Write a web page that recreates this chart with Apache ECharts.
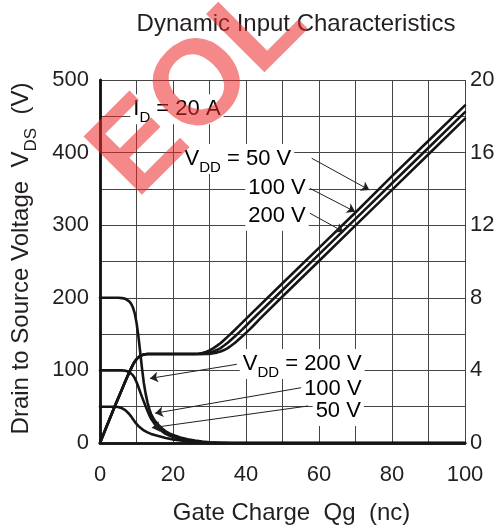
<!DOCTYPE html>
<html><head><meta charset="utf-8">
<script src="https://cdn.jsdelivr.net/npm/echarts@6/dist/echarts.min.js"></script>
<style>html,body{margin:0;padding:0;background:#fff}#c{width:499px;height:529px}</style>
</head><body><div id="c"></div>
<script>
// ---- tick labels ----
const xTickLabels = [0, 20, 40, 60, 80, 100];
const leftTickLabels = [0, 100, 200, 300, 400, 500];
const rightTickLabels = [0, 4, 8, 12, 16, 20];

// ---- Gate-source voltage VGS (right axis, V) vs Qg (nC) ----
const vgs50 = [[0,0],[2,1.0],[4,2.0],[6,2.95],[7,3.43],[8,3.88],[8.5,4.1],[9,4.3],[9.5,4.48],[10,4.62],[10.5,4.73],[11,4.8],[11.5,4.85],[12,4.88],[13,4.9],[20,4.9],[26,4.9],[27,4.92],[28,4.96],[29,5.02],[30,5.1],[31,5.21],[32,5.35],[33,5.5],[34,5.68],[35,5.86],[36,6.05],[37,6.24],[38,6.44],[40,6.84],[50,8.8],[60,10.75],[70,12.7],[80,14.7],[90,16.65],[100,18.6]];
const vgs100 = [[0,0],[2,1.0],[4,2.0],[6,2.95],[7,3.43],[8,3.88],[8.5,4.1],[9,4.3],[9.5,4.48],[10,4.62],[10.5,4.73],[11,4.8],[11.5,4.85],[12,4.88],[13,4.9],[20,4.9],[28,4.91],[29,4.94],[30,4.98],[31,5.04],[32,5.12],[33,5.23],[34,5.37],[35,5.52],[36,5.7],[37,5.88],[38,6.07],[39,6.26],[40,6.46],[42,6.86],[50,8.43],[60,10.39],[70,12.35],[80,14.31],[90,16.27],[100,18.23]];
const vgs200 = [[0,0],[2,1.0],[4,2.0],[6,2.95],[7,3.43],[8,3.88],[8.5,4.1],[9,4.3],[9.5,4.48],[10,4.62],[10.5,4.73],[11,4.8],[11.5,4.85],[12,4.88],[13,4.9],[20,4.9],[30,4.91],[31,4.94],[32,4.98],[33,5.04],[34,5.12],[35,5.23],[36,5.37],[37,5.52],[38,5.7],[39,5.88],[40,6.07],[41,6.26],[42,6.46],[44,6.88],[50,8.07],[60,10.03],[70,11.99],[80,13.95],[90,15.91],[100,17.87]];

// ---- Drain-source voltage VDS (left axis, V) vs Qg (nC) ----
const vds200 = [[0,200],[5,200],[6,199.6],[7,198.5],[7.5,197],[8,195],[8.5,192],[9,187],[9.5,179],[10,166],[10.5,148],[11,126],[11.5,103],[12,83],[12.5,68],[13,56],[13.5,47],[14,40],[14.5,35],[15,31],[16,25],[17,20],[18,16],[19,13.2],[20,11],[22,7.5],[24,5],[26,3.3],[28,2],[30,1.1],[32,0.5],[34,0.15],[36,0],[100,0]];
const vds100 = [[0,100],[6,100],[7,99.5],[7.5,98.8],[8,97.8],[8.5,96],[9,93.5],[9.5,89.5],[10,84],[10.5,77.5],[11,70.5],[11.5,63.5],[12,57],[12.5,50.5],[13,44.5],[13.5,38.5],[14,33.5],[15,26],[16,20.5],[17,16],[18,12.5],[19,10.2],[20,8.5],[22,5.6],[24,3.6],[26,2.3],[28,1.3],[30,0.6],[32,0.2],[34,0],[100,0]];
const vds50 = [[0,50],[4,50],[5,49.6],[5.5,49],[6,48],[6.5,46.7],[7,45],[7.5,42.7],[8,40],[8.5,36.7],[9,33.2],[9.5,29.5],[10,26.3],[10.5,23.5],[11,21],[12,17.3],[13,14.6],[14,12.5],[15,10.9],[16,9.5],[18,7],[20,5],[22,3.5],[24,2.3],[26,1.5],[28,0.8],[30,0.3],[32,0.05],[33,0],[100,0]];

// ---- annotation arrows (data coords: [Qg, V]) ----
const upperArrows = [[[58,15.69],[73.8,13.94]], [[57.5,14.03],[69.9,12.74]], [[57.5,12.66],[66.7,11.64]]];
const lowerArrows = [[[37.5,108.4],[13.7,89]], [[55.7,76.7],[15.1,41]], [[57,51],[14.2,21]]];

const FONT = '"Liberation Sans", Arial, Helvetica, sans-serif';
const INK = '#231f20';

const chart = echarts.init(document.getElementById('c'), null, {renderer: 'canvas'});

const lineStyle = {color: '#151515', width: 2.6, join: 'round', cap: 'round'};
function curve(data, yIdx, extra) {
  return Object.assign({
    type: 'line', data: data, yAxisIndex: yIdx, symbol: 'none', smooth: false,
    lineStyle: lineStyle, silent: true, animation: false, z: 3
  }, extra || {});
}
function arrowMark(arrs) {
  return {
    silent: true, animation: false, symbol: ['none', 'arrow'], symbolSize: 8,
    label: {show: false}, emphasis: {disabled: true},
    lineStyle: {color: INK, width: 1, type: 'solid'},
    data: arrs.map(a => [{coord: a[0]}, {coord: a[1]}])
  };
}
const axisLineStyle = {show: true, lineStyle: {color: '#151515', width: 2.5}};

chart.setOption({
  animation: false,
  backgroundColor: '#fff',
  title: {
    text: 'Dynamic Input Characteristics', left: 291, top: 7, textAlign: 'center',
    textStyle: {fontFamily: FONT, fontSize: 24, fontWeight: 'normal', color: INK}
  },
  grid: {left: 100, right: 34, top: 80, bottom: 86, containLabel: false, outerBoundsMode: 'none'},
  xAxis: [{
    type: 'value', min: 0, max: 100, interval: 10, position: 'bottom',
    axisLine: axisLineStyle, axisTick: {show: false},
    axisLabel: {margin: 21, fontFamily: FONT, fontSize: 22, color: INK,
      formatter: v => xTickLabels.includes(v) ? String(v) : ''},
    splitLine: {show: true, lineStyle: {color: '#444', width: 1}},
    name: 'Gate Charge  Qg  (nc)', nameLocation: 'middle', nameGap: 58,
    nameTextStyle: {fontFamily: FONT, fontSize: 24, color: INK, padding: [0, 0, 0, 18]}
  }, {
    type: 'value', min: 0, max: 100, interval: 10, position: 'top',
    axisLine: axisLineStyle, axisTick: {show: false}, axisLabel: {show: false}, splitLine: {show: false}
  }],
  yAxis: [{
    type: 'value', min: 0, max: 500, interval: 50, position: 'left',
    axisLine: axisLineStyle, axisTick: {show: false},
    axisLabel: {margin: 11, fontFamily: FONT, fontSize: 22, color: INK,
      formatter: v => leftTickLabels.includes(v) ? String(v) : ''},
    splitLine: {show: true, lineStyle: {color: '#444', width: 1}},
    name: '{m|Drain to Source Voltage  V}{s|DS}{m|  (V)}', nameLocation: 'middle', nameGap: 62, nameRotate: 90,
    nameTextStyle: {
      padding: [0, 0, 0, 6],
      rich: {
        m: {fontFamily: FONT, fontSize: 24, color: INK, lineHeight: 34},
        s: {fontFamily: FONT, fontSize: 17, color: INK, lineHeight: 34, verticalAlign: 'top', padding: [19, 0, 0, 0]}
      }
    }
  }, {
    type: 'value', min: 0, max: 20, interval: 2, position: 'right',
    axisLine: axisLineStyle, axisTick: {show: false},
    axisLabel: {margin: 5, fontFamily: FONT, fontSize: 22, color: INK,
      formatter: v => rightTickLabels.includes(v) ? String(v) : ''},
    splitLine: {show: false}
  }],
  series: [
    curve(vgs50, 1, {name: 'VGS 50', markLine: arrowMark(upperArrows)}),
    curve(vgs100, 1, {name: 'VGS 100'}),
    curve(vgs200, 1, {name: 'VGS 200'}),
    curve(vds200, 0, {name: 'VDS 200', markLine: arrowMark(lowerArrows)}),
    curve(vds100, 0, {name: 'VDS 100'}),
    curve(vds50, 0, {name: 'VDS 50'})
  ]
});

// ---- text annotations placed through the chart's own coordinate conversion ----
const rich = {
  m: {fontFamily: FONT, fontSize: 22, color: INK, lineHeight: 30},
  s: {fontFamily: FONT, fontSize: 15, color: INK, lineHeight: 30, verticalAlign: 'top', padding: [16, 0, 0, 0]}
};
const labels = [
  // [seriesIndex whose axes are used, [Qg, V], text, align]
  [3, [8.3, 459.8], '{m|I}{s|D}{m| = 20 A}', 'left'],
  [0, [53.2, 15.65], '{m|V}{s|DD}{m| = 50 V}', 'right'],
  [0, [57.2, 14.08], '{m|100 V}', 'right'],
  [0, [57.2, 12.52], '{m|200 V}', 'right'],
  [3, [72.5, 108.8], '{m|V}{s|DD}{m| = 200 V}', 'right'],
  [3, [72.5, 74.4], '{m|100 V}', 'right'],
  [3, [72.3, 44], '{m|50 V}', 'right']
];
const graphics = labels.map(l => {
  const p = chart.convertToPixel({seriesIndex: l[0]}, l[1]);
  return {
    type: 'text', x: p[0], y: p[1], z: 50, silent: true,
    style: {text: l[2], rich: rich, align: l[3], verticalAlign: 'middle', backgroundColor: '#fff', padding: [0, 3]}
  };
});
// EOL watermark
graphics.push({
  type: 'text', x: 200, y: 90, rotation: Math.PI / 4, z: 100, silent: true,
  style: {text: 'EOL', font: 'bold 120px ' + FONT, fill: 'rgba(236,40,40,0.55)', align: 'center', verticalAlign: 'middle'}
});
chart.setOption({graphic: graphics});
</script></body></html>
